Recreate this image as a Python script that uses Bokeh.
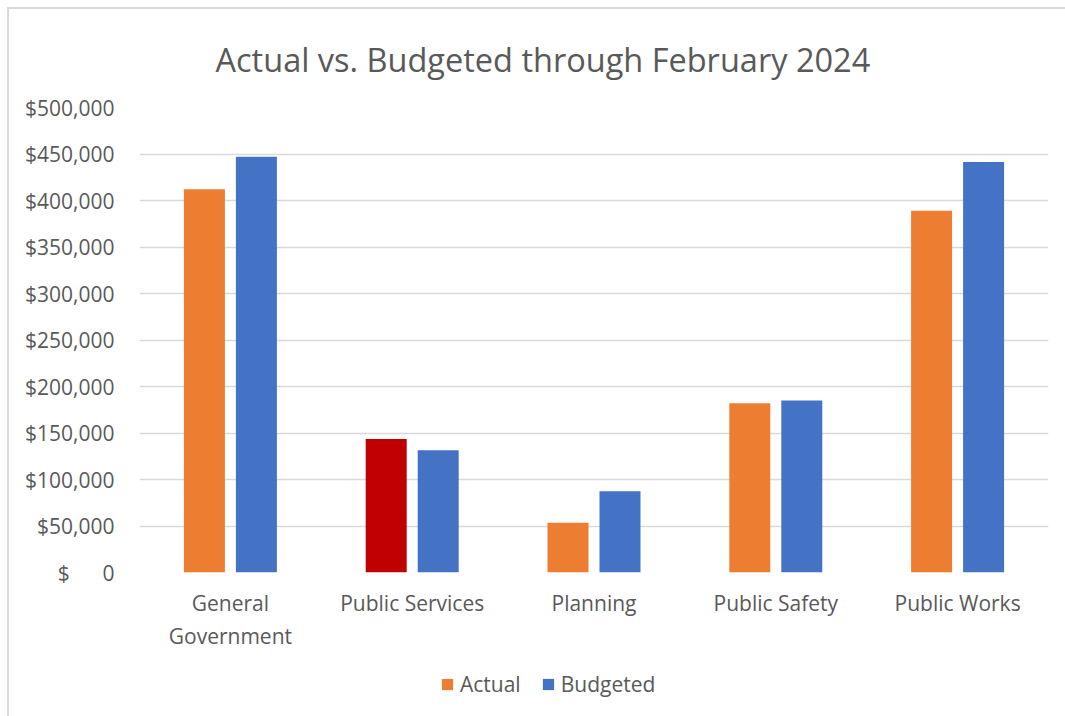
from bokeh.plotting import figure
from bokeh.layouts import column
from bokeh.models import ColumnDataSource, FixedTicker, NumeralTickFormatter, Legend, LegendItem
from bokeh.transform import dodge
from bokeh.embed import file_html
from bokeh.resources import INLINE

categories = ["General Government", "Public Services", "Planning", "Public Safety", "Public Works"]
category_labels = ["General\nGovernment", "Public Services", "Planning", "Public Safety", "Public Works"]
actual = [412000, 143500, 53500, 182000, 389000]
budgeted = [447000, 131500, 87500, 185000, 441500]
y_ticks = [0, 50000, 100000, 150000, 200000, 250000, 300000, 350000, 400000, 450000, 500000]
series_names = ["Actual", "Budgeted"]
title_text = "Actual vs. Budgeted through February 2024"

ORANGE = "#ED7D31"
BLUE = "#4472C4"
RED = "#C00000"
TXT = "#595959"
FONT = "Open Sans"

idx = list(range(len(categories)))
actual_colors = [RED if a > b else ORANGE for a, b in zip(actual, budgeted)]

src = ColumnDataSource(dict(x=idx, cat=categories, actual=actual, budgeted=budgeted, acol=actual_colors))

p = figure(x_range=(-0.5, len(categories) - 0.5), y_range=(0, 500000), width=1056, height=660,
           output_backend="svg", toolbar_location=None,
           min_border_left=130, min_border_right=17, min_border_top=97, min_border_bottom=97)

p.title.text = title_text
p.title.align = "left"
p.title.offset = 76
p.title.text_font = FONT
p.title.text_font_size = "32.5px"
p.title.text_font_style = "normal"
p.title.text_color = TXT
p.title.text_line_height = 1.0
p.title.standoff = 51

p.vbar(x=dodge("x", -0.143), top="actual", width=0.2255,
       source=src, fill_color="acol", line_color=None)
p.vbar(x=dodge("x", 0.143), top="budgeted", width=0.2255,
       source=src, fill_color=BLUE, line_color=None)

p.outline_line_color = None
p.xgrid.grid_line_color = None
p.ygrid.grid_line_color = "#D9D9D9"
p.ygrid.grid_line_width = 1.5
p.yaxis.ticker = FixedTicker(ticks=y_ticks)
p.yaxis.formatter = NumeralTickFormatter(format="$0,0")
p.yaxis.major_label_overrides = {0: "$\u00a0\u00a0\u00a0\u00a0\u00a0\u00a00"}
p.xaxis.ticker = FixedTicker(ticks=idx)
p.xaxis.major_label_overrides = {i: lab for i, lab in zip(idx, category_labels)}
for ax in (p.xaxis, p.yaxis):
    ax.axis_line_color = None
    ax.major_tick_line_color = None
    ax.minor_tick_line_color = None
    ax.major_label_text_font = FONT
    ax.major_label_text_font_size = "21px"
    ax.major_label_text_color = TXT
p.yaxis.major_label_standoff = 19
p.xaxis.major_label_standoff = 10

# legend strip below the chart
pl = figure(x_range=(0, 1), y_range=(0, 1), width=1056, height=47,
            output_backend="svg", toolbar_location=None,
            min_border_left=0, min_border_right=0, min_border_top=0, min_border_bottom=0)
pl.axis.visible = False
pl.grid.visible = False
pl.outline_line_color = None
swatch = ColumnDataSource(dict(x=[-5.0], top=[0.0]))
la = pl.vbar(x="x", top="top", width=0.1, source=swatch, fill_color=ORANGE, line_color=None)
lb = pl.vbar(x="x", top="top", width=0.1, source=swatch, fill_color=BLUE, line_color=None)
legend = Legend(items=[LegendItem(label=series_names[0], renderers=[la]),
                       LegendItem(label=series_names[1], renderers=[lb])],
                orientation="horizontal", location=(301, 18),
                glyph_width=14, glyph_height=14, label_standoff=6, spacing=20,
                padding=0, margin=0, border_line_color=None, background_fill_alpha=0,
                label_text_font=FONT, label_text_font_size="21px", label_text_color=TXT)
pl.add_layout(legend)

layout = column(p, pl, spacing=0)
layout.styles = {"margin-left": "7px", "margin-top": "7px",
                 "border-left": "2px solid #D9D9D9", "border-top": "2px solid #D9D9D9"}

open("out.html", "w").write(file_html(layout, INLINE))
